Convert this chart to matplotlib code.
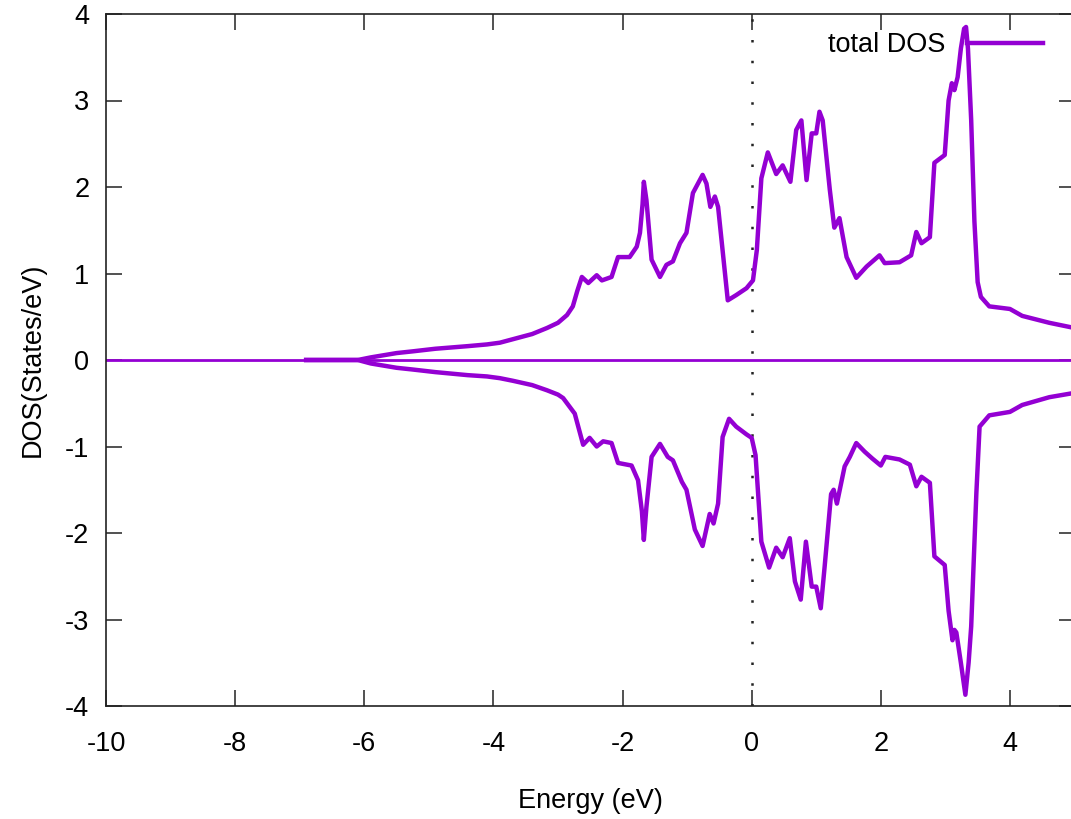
import matplotlib
matplotlib.use("Agg")
import matplotlib.pyplot as plt

plt.rcParams['font.family'] = ['Liberation Sans', 'DejaVu Sans']
plt.rcParams['axes.unicode_minus'] = False

# Spin-up total DOS
energy_up = [-6.9, -6.1, -5.9, -5.5, -5.25, -4.9, -4.4, -4.10, -3.9, -3.70, -3.4, -3.17, -3.0,
             -2.86, -2.77, -2.70, -2.63,
             -2.53, -2.40, -2.32, -2.17, -2.07, -1.89, -1.78, -1.73, -1.69, -1.67, -1.63, -1.55,
             -1.42, -1.32, -1.22, -1.11, -1.01, -0.91, -0.76, -0.70, -0.64, -0.57, -0.52, -0.37,
             -0.24, -0.08, 0.02, 0.08, 0.15, 0.25, 0.38, 0.48, 0.60, 0.69, 0.77, 0.85, 0.93,
             1.00, 1.05, 1.10, 1.21, 1.28, 1.36, 1.47, 1.62, 1.78, 1.98, 2.06, 2.29, 2.47, 2.55,
             2.63, 2.76, 2.83, 2.99, 3.05, 3.10, 3.14, 3.19, 3.24, 3.29, 3.32, 3.35, 3.40, 3.45,
             3.50, 3.55, 3.68, 4.00, 4.19, 4.61, 5.0]
dos_up = [0.0, 0.0, 0.03, 0.08, 0.10, 0.13, 0.16, 0.18, 0.20, 0.24, 0.30, 0.37, 0.43,
          0.52, 0.62, 0.80, 0.96,
          0.89, 0.98, 0.92, 0.96, 1.19, 1.19, 1.31, 1.47, 1.80, 2.06, 1.85, 1.16,
          0.96, 1.10, 1.14, 1.35, 1.47, 1.93, 2.14, 2.04, 1.77, 1.89, 1.77, 0.69,
          0.75, 0.83, 0.92, 1.27, 2.10, 2.40, 2.15, 2.25, 2.06, 2.66, 2.77, 2.08, 2.62,
          2.62, 2.87, 2.77, 1.97, 1.53, 1.64, 1.19, 0.95, 1.08, 1.21, 1.12, 1.13, 1.21, 1.48,
          1.35, 1.42, 2.28, 2.37, 3.00, 3.20, 3.12, 3.27, 3.60, 3.83, 3.85, 3.60, 2.77, 1.60,
          0.90, 0.73, 0.62, 0.59, 0.51, 0.43, 0.37]

# Spin-down total DOS
energy_dn = [-6.9, -6.1, -5.9, -5.5, -5.25, -4.9, -4.4, -4.10, -3.9, -3.70, -3.4, -3.17, -3.0,
             -2.92, -2.74, -2.61, -2.51,
             -2.40, -2.30, -2.17, -2.07, -1.86, -1.76, -1.70, -1.67, -1.63, -1.55, -1.42, -1.30,
             -1.22, -1.08, -1.01, -0.88, -0.76, -0.65, -0.59, -0.52, -0.45, -0.35, -0.24, -0.08,
             0.00, 0.06, 0.15, 0.27, 0.38, 0.48, 0.59, 0.67, 0.76, 0.84, 0.93, 1.00, 1.07, 1.13,
             1.23, 1.27, 1.32, 1.44, 1.52, 1.62, 1.75, 1.87, 2.00, 2.07, 2.29, 2.45, 2.55, 2.63,
             2.76, 2.83, 2.99, 3.05, 3.11, 3.14, 3.17, 3.24, 3.31, 3.36, 3.40, 3.48, 3.53, 3.68,
             4.00, 4.19, 4.61, 5.0]
dos_dn = [0.0, 0.0, -0.04, -0.09, -0.11, -0.14, -0.175, -0.19, -0.21, -0.24, -0.29, -0.35, -0.40,
          -0.44, -0.62, -0.98, -0.90,
          -1.00, -0.94, -0.96, -1.19, -1.22, -1.39, -1.75, -2.08, -1.70, -1.12, -0.97, -1.12,
          -1.16, -1.41, -1.50, -1.96, -2.15, -1.78, -1.89, -1.66, -0.89, -0.68, -0.77, -0.86,
          -0.90, -1.10, -2.10, -2.40, -2.17, -2.28, -2.06, -2.56, -2.77, -2.10, -2.62, -2.62, -2.87, -2.39,
          -1.55, -1.50, -1.66, -1.23, -1.12, -0.96, -1.06, -1.14, -1.22, -1.12, -1.15, -1.21, -1.46, -1.35,
          -1.42, -2.27, -2.37, -2.90, -3.24, -3.12, -3.15, -3.50, -3.87, -3.50, -3.08, -1.54, -0.77, -0.64,
          -0.60, -0.52, -0.43, -0.38]

xticks = [-10, -8, -6, -4, -2, 0, 2, 4]
yticks = [-4, -3, -2, -1, 0, 1, 2, 3, 4]
color = '#9400D3'
fs = 19.5

fig = plt.figure(figsize=(10.71, 8.19), dpi=100)
ax = fig.add_axes([106/1071, 1 - 706/819, 968.5/1071, 692/819])

ax.axhline(0, color=color, lw=2.0, zorder=2)
ax.plot(energy_up, dos_up, color=color, lw=3.2, label='total DOS', zorder=3,
        solid_joinstyle='round')
ax.plot(energy_dn, dos_dn, color=color, lw=3.2, zorder=3, solid_joinstyle='round')
ax.axvline(0, color='#222222', lw=1.8, linestyle=(0, (1.0, 7.3)), zorder=1)

ax.set_xlim(-10, 5)
ax.set_ylim(-4, 4)
ax.set_xticks(xticks)
ax.set_yticks(yticks)
ax.tick_params(direction='in', length=11.5, width=1.1, top=True, right=True,
               labelsize=fs, color='#222222')
ax.tick_params(axis='x', pad=18)
ax.tick_params(axis='y', pad=12)
for s in ax.spines.values():
    s.set_linewidth(1.2)
    s.set_color('#222222')

ax.set_xlabel('Energy (eV)', fontsize=fs, labelpad=22)
ax.set_ylabel('DOS(States/eV)', fontsize=fs, labelpad=14)

leg = ax.legend(loc='upper right', bbox_to_anchor=((1043 - 106) / 968.5, (706 - 32) / 692),
                markerfirst=False, frameon=False, fontsize=fs, handlelength=2.8,
                handletextpad=0.8, borderpad=0, borderaxespad=0)

fig.savefig('out.png', dpi=100)
